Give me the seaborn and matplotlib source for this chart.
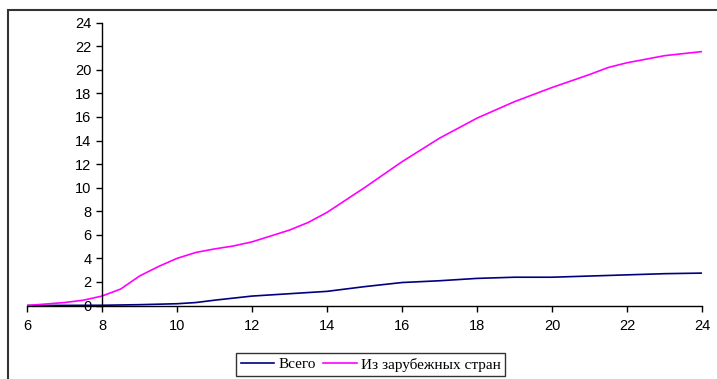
import matplotlib
matplotlib.use("Agg")
import matplotlib.pyplot as plt
from matplotlib.patches import Rectangle
from matplotlib.lines import Line2D
import seaborn as sns
import pandas as pd

# Data
x_total = [6, 8, 9, 10, 10.5, 11, 12, 13, 14, 15, 16, 17, 18, 19, 20, 21, 22, 23, 24]
y_total = [0, 0.02, 0.07, 0.15, 0.25, 0.45, 0.8, 1.0, 1.2, 1.6, 1.95, 2.1, 2.3, 2.4, 2.4, 2.5, 2.6, 2.7, 2.75]
x_foreign = [6, 7, 7.5, 8, 8.5, 9, 9.5, 10, 10.5, 11, 11.5, 12, 13, 13.5, 14, 15, 16, 17, 18, 19, 20, 21, 21.5, 22, 23, 24]
y_foreign = [0, 0.25, 0.45, 0.8, 1.4, 2.5, 3.3, 4.0, 4.5, 4.8, 5.05, 5.4, 6.4, 7.05, 7.9, 10.0, 12.2, 14.2, 15.9, 17.3, 18.5, 19.6, 20.2, 20.6, 21.2, 21.55]
series_names = ["Всего", "Из зарубежных стран"]
colors = ["#000080", "#FF00FF"]
x_ticks = list(range(6, 25, 2))
y_ticks = list(range(0, 25, 2))

df = pd.concat([
    pd.DataFrame({"x": x_total, "y": y_total, "s": series_names[0]}),
    pd.DataFrame({"x": x_foreign, "y": y_foreign, "s": series_names[1]}),
])

plt.rcParams['font.family'] = ['Liberation Sans', 'DejaVu Sans']
fig = plt.figure(figsize=(7.17, 3.79), dpi=100)
W, H = 717, 379
ax = fig.add_axes([27 / W, 1 - 305.5 / H, (702 - 27) / W, (305.5 - 22.7) / H])

sns.lineplot(data=df, x="x", y="y", hue="s", palette=colors, ax=ax,
             linewidth=1.2, sort=False, estimator=None, legend=False)

ax.set_xlim(6, 24)
ax.set_ylim(0, 24)
ax.set_xticks(x_ticks)
ax.set_yticks(y_ticks)
ax.set_xlabel("")
ax.set_ylabel("")
ax.spines['top'].set_visible(False)
ax.spines['right'].set_visible(False)
ax.spines['left'].set_position(('data', 8))
ax.spines['left'].set_linewidth(1.0)
ax.spines['bottom'].set_linewidth(1.0)
ax.tick_params(axis='both', direction='out', length=4.5, width=1, labelsize=10.5, colors='black')
ax.tick_params(axis='x', pad=5)
ax.tick_params(axis='y', pad=3)
ax.patch.set_alpha(0)

# Legend
handles = [Line2D([], [], color=c, lw=1.2) for c in colors]
leg = fig.legend(handles, series_names, loc='center', bbox_to_anchor=(370.5 / W, 1 - 364.5 / H),
                 ncol=2, frameon=True, fancybox=False, handlelength=2.2, handletextpad=0.25,
                 columnspacing=0.5, borderpad=0.3, borderaxespad=0,
                 prop={'family': 'Liberation Serif', 'size': 11})
leg.get_frame().set_edgecolor('black')
leg.get_frame().set_linewidth(1.0)

# Outer chart frame (partially outside image)
fig.patches.append(Rectangle((7.5 / W, -0.1), 1.2, 1 - 10 / H + 0.1, transform=fig.transFigure,
                             fill=False, edgecolor='#333333', linewidth=1.5))

fig.savefig("out.png", dpi=100)
